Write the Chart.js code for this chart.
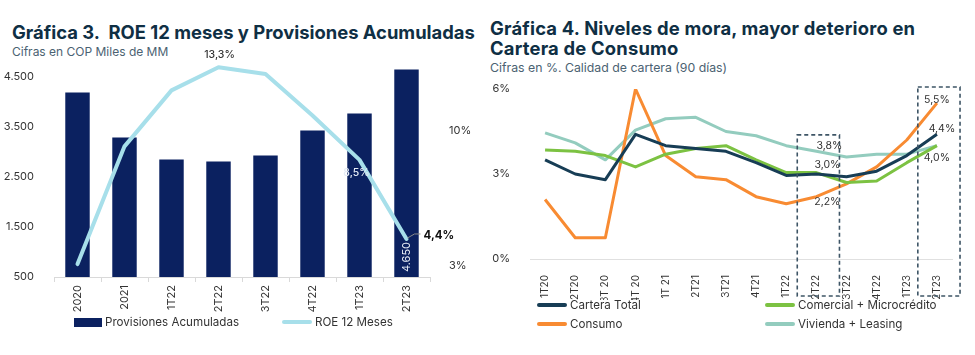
<!DOCTYPE html>
<html><head><meta charset="utf-8">
<script src="https://cdn.jsdelivr.net/npm/chart.js@4.4.0/dist/chart.umd.min.js"></script>
<style>
html,body{margin:0;padding:0;background:#fff;}
body{width:975px;height:355px;position:relative;overflow:hidden;font-family:Inter,"Open Sans",sans-serif;}
.title{position:absolute;font-weight:700;color:#0f2f44;font-size:18.4px;line-height:20px;white-space:nowrap;}
.sub{position:absolute;color:#4b6272;font-size:12px;white-space:nowrap;}
canvas{position:absolute;top:0;}
.li{position:absolute;display:flex;align-items:center;white-space:nowrap;font-size:11.6px;color:#333;height:16px;}
.sw{display:inline-block;margin-right:3px;}
</style></head>
<body>
<div class="title" style="left:12px;top:22px">Gráfica 3.&nbsp; ROE 12 meses y Provisiones Acumuladas</div>
<div class="sub" style="left:12px;top:44px">Cifras en COP Miles de MM</div>
<div class="title" style="left:490px;top:18px;letter-spacing:0.2px">Gráfica 4. Niveles de mora, mayor deterioro en<br>Cartera de Consumo</div>
<div class="sub" style="left:490px;top:60px;font-size:12.3px">Cifras en %. Calidad de cartera (90 días)</div>
<canvas id="c1" width="482" height="315" style="left:0"></canvas>
<canvas id="c2" width="490" height="300" style="left:485px"></canvas>
<div id="legL"></div>
<div id="legR"></div>
<script>
// ---------- Gráfica 3 data ----------
const catsL = ['2020','2021','1T22','2T22','3T22','4T22','1T23','2T23'];
const provisiones = [4190, 3290, 2850, 2810, 2930, 3430, 3770, 4650];
const roe = [3.1, 9.2, 12.1, 13.3, 12.95, 10.8, 8.5, 4.4];
const ticksLeft = [500, 1500, 2500, 3500, 4500];
const ticksRight = [3, 10];

// ---------- Gráfica 4 data ----------
const catsR = ['1T20','2T20','3T 20','4T 20','1T 21','2T21','3T21','4T21','1T22','2T22','3T22','4T22','1T23','2T23'];
const carteraTotal = [3.5, 3.0, 2.8, 4.4, 4.0, 3.9, 3.8, 3.4, 2.95, 3.0, 2.9, 3.1, 3.65, 4.4];
const comercial   = [3.85, 3.8, 3.65, 3.25, 3.7, 3.9, 4.0, 3.5, 3.05, 3.05, 2.7, 2.75, 3.4, 4.0];
const consumo     = [2.1, 0.75, 0.75, 6.0, 3.65, 2.9, 2.8, 2.2, 1.95, 2.2, 2.65, 3.25, 4.2, 5.5];
const vivienda    = [4.45, 4.1, 3.5, 4.55, 4.95, 5.0, 4.5, 4.35, 4.0, 3.8, 3.6, 3.7, 3.7, 4.0];
const ticksR = [0, 3, 6];
const boxCats = ['2T22', '2T23'];
const boxTops = [4.38, 6.07];

const FONT = 'Inter, "Open Sans", sans-serif';
const fmtThousands = v => String(v).replace(/\B(?=(\d{3})+(?!\d))/g, '.');
const fmtPct = v => v.toFixed(1).replace('.', ',') + '%';

Chart.defaults.font.family = FONT;
Chart.defaults.color = '#333';

// ---------- Chart 1 ----------
const labelsLeft = {
  id: 'labelsLeft',
  afterDatasetsDraw(chart) {
    const ctx = chart.ctx;
    const lm = chart.getDatasetMeta(0).data;
    const bm = chart.getDatasetMeta(1).data;
    ctx.save();
    ctx.textAlign = 'center'; ctx.textBaseline = 'middle';
    ctx.font = '500 10.5px ' + FONT; ctx.fillStyle = '#333';
    ctx.fillText(fmtPct(roe[3]), lm[3].x + 1, lm[3].y - 12);
    ctx.fillStyle = '#e4ebf5';
    ctx.fillText(fmtPct(roe[6]), lm[6].x - 3, lm[6].y + 13);
    const p = lm[7];
    ctx.strokeStyle = '#8a8a8a'; ctx.lineWidth = 1;
    ctx.beginPath(); ctx.moveTo(p.x + 1, p.y - 1); ctx.lineTo(p.x + 8, p.y - 5); ctx.lineTo(p.x + 14, p.y - 5); ctx.stroke();
    ctx.font = '700 11.5px ' + FONT; ctx.fillStyle = '#111'; ctx.textAlign = 'left';
    ctx.fillText(fmtPct(roe[7]), p.x + 17, p.y - 3);
    const b = bm[7];
    ctx.translate(b.x, chart.chartArea.bottom - 20);
    ctx.rotate(-Math.PI / 2);
    ctx.textAlign = 'center';
    ctx.font = '400 11px ' + FONT; ctx.fillStyle = '#e8eef7';
    ctx.fillText(fmtThousands(provisiones[7]), 0, 0);
    ctx.restore();
  }
};

const c1 = new Chart(document.getElementById('c1'), {
  data: {
    labels: catsL,
    datasets: [
      { type: 'line', label: 'ROE 12 Meses', data: roe, yAxisID: 'y1', borderColor: '#a7dfea', backgroundColor: '#a7dfea',
        borderWidth: 4, pointRadius: 0, tension: 0, borderCapStyle: 'round', borderJoinStyle: 'round', order: 0 },
      { type: 'bar', label: 'Provisiones Acumuladas', data: provisiones, yAxisID: 'y', backgroundColor: '#0b2160',
        barPercentage: 0.52, categoryPercentage: 1, base: 500, order: 1 }
    ]
  },
  options: {
    responsive: false, animation: false, devicePixelRatio: 1,
    layout: { padding: { top: 57, left: 0, right: 0, bottom: 0 } },
    plugins: { legend: { display: false }, tooltip: { enabled: false } },
    scales: {
      x: {
        offset: true,
        grid: { offset: true, drawOnChartArea: false, drawTicks: true, tickLength: 5, color: '#d9d9d9' },
        border: { color: '#d9d9d9' },
        ticks: { minRotation: 90, maxRotation: 90, padding: 3, font: { size: 11 }, color: '#333' },
        afterFit: s => { s.height = 38; }
      },
      y: {
        position: 'left', min: 500, max: 4900,
        afterBuildTicks: s => { s.ticks = ticksLeft.map(v => ({ value: v })); },
        grid: { display: false }, border: { display: false },
        ticks: { padding: 12, font: { size: 11 }, color: '#333', callback: v => fmtThousands(v) },
        afterFit: s => { s.width = 54; }
      },
      y1: {
        position: 'right', min: 2.43, max: 13.83,
        afterBuildTicks: s => { s.ticks = ticksRight.map(v => ({ value: v })); },
        grid: { display: false }, border: { display: false },
        ticks: { padding: 11, font: { size: 11 }, color: '#333', callback: v => v + '%' },
        afterFit: s => { s.width = 52; }
      }
    }
  },
  plugins: [labelsLeft]
});

// ---------- Chart 2 ----------
const seriesR = [
  { label: 'Cartera Total', data: carteraTotal, color: '#173d55' },
  { label: 'Comercial + Microcrédito', data: comercial, color: '#7cc242' },
  { label: 'Consumo', data: consumo, color: '#f88b32' },
  { label: 'Vivienda + Leasing', data: vivienda, color: '#93ccbe' }
];
// [dataset, index, dx, dy]
const labelSpecsR = [
  [3, 9, 13, -5], [0, 9, 11, -9], [2, 9, 11, 5],
  [2, 13, 0, -3], [0, 13, 5, -5], [1, 13, 0, 12]
];

const boxesAndLabels = {
  id: 'boxesAndLabels',
  afterDraw(chart) {
    const ctx = chart.ctx, xs = chart.scales.x, ys = chart.scales.y, ca = chart.chartArea;
    const cw = (xs.right - xs.left) / catsR.length;
    ctx.save();
    ctx.strokeStyle = '#3e5566'; ctx.lineWidth = 1.6; ctx.setLineDash([4, 3]);
    boxCats.forEach((c, k) => {
      const cx = xs.getPixelForValue(catsR.indexOf(c)) + 2;
      const top = ys.getPixelForValue(boxTops[k]);
      const l = cx - 0.7 * cw, r = cx + 0.7 * cw, b = ca.bottom + 37;
      ctx.strokeRect(l, top, r - l, b - top);
    });
    ctx.setLineDash([]);
    ctx.font = '400 10.5px ' + FONT; ctx.fillStyle = '#333'; ctx.textAlign = 'center'; ctx.textBaseline = 'middle';
    labelSpecsR.forEach(([d, i, dx, dy]) => {
      const el = chart.getDatasetMeta(d).data[i];
      ctx.fillText(fmtPct(seriesR[d].data[i]), el.x + dx, el.y + dy);
    });
    ctx.restore();
  }
};

const c2 = new Chart(document.getElementById('c2'), {
  type: 'line',
  data: {
    labels: catsR,
    datasets: seriesR.map(s => ({ label: s.label, data: s.data, borderColor: s.color, backgroundColor: s.color,
      borderWidth: 3, pointRadius: 0, tension: 0, borderJoinStyle: 'round' }))
  },
  options: {
    responsive: false, animation: false, devicePixelRatio: 1,
    layout: { padding: { top: 89, left: 0, right: 23, bottom: 0 } },
    plugins: { legend: { display: false }, tooltip: { enabled: false } },
    scales: {
      x: {
        offset: true,
        grid: { display: false },
        border: { display: true, color: '#e0e0e0' },
        ticks: { minRotation: 90, maxRotation: 90, padding: 8, font: { size: 10 }, color: '#333' },
        afterFit: s => { s.height = 41; }
      },
      y: {
        min: 0, max: 6,
        afterBuildTicks: s => { s.ticks = ticksR.map(v => ({ value: v })); },
        grid: { display: false }, border: { display: false },
        ticks: { padding: 12, font: { size: 11 }, color: '#333', callback: v => v + '%' },
        afterFit: s => { s.width = 45; }
      }
    }
  },
  plugins: [boxesAndLabels]
});

// ---------- HTML legends built from chart datasets ----------
function item(parent, left, top, swatchCss, text) {
  const d = document.createElement('div'); d.className = 'li';
  d.style.left = left + 'px'; d.style.top = top + 'px';
  const s = document.createElement('span'); s.className = 'sw'; s.style.cssText += swatchCss;
  const t = document.createElement('span'); t.textContent = text;
  d.appendChild(s); d.appendChild(t); parent.appendChild(d);
}
const legL = document.getElementById('legL');
const dsBar = c1.data.datasets[1], dsLine = c1.data.datasets[0];
item(legL, 74, 314, `width:28px;height:9px;background:${dsBar.backgroundColor};`, dsBar.label);
item(legL, 282, 314, `width:30px;height:4px;border-radius:2px;background:${dsLine.borderColor};`, dsLine.label);

const legR = document.getElementById('legR');
const posR = [[537, 297], [765, 297], [537, 316], [765, 316]];
c2.data.datasets.forEach((ds, k) => {
  item(legR, posR[k][0], posR[k][1], `width:30px;height:4px;border-radius:2px;background:${ds.borderColor};`, ds.label);
});
</script>
</body></html>
